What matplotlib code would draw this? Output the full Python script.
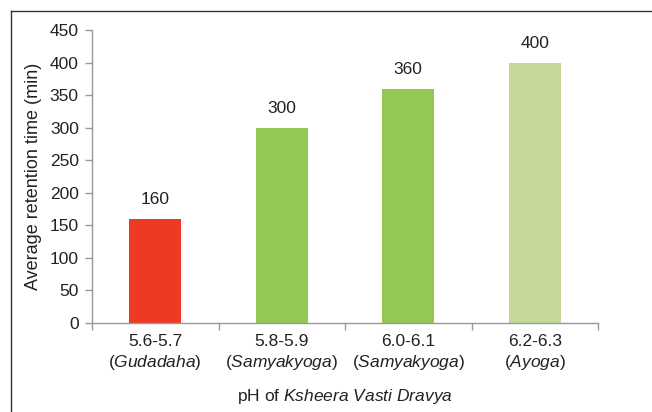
import matplotlib
matplotlib.use("Agg")
import matplotlib.pyplot as plt
from matplotlib.lines import Line2D
import numpy as np

ranges = ["5.6-5.7", "5.8-5.9", "6.0-6.1", "6.2-6.3"]
names = ["Gudadaha", "Samyakyoga", "Samyakyoga", "Ayoga"]
values = [160, 300, 360, 400]
colors = ["#EE3A23", "#92C954", "#92C954", "#C4D89A"]
yticks = [0, 50, 100, 150, 200, 250, 300, 350, 400, 450]

plt.rcParams['font.family'] = ['Liberation Sans', 'DejaVu Sans']
plt.rcParams['mathtext.fontset'] = 'custom'
plt.rcParams['mathtext.rm'] = 'Liberation Sans'
plt.rcParams['mathtext.it'] = 'Liberation Sans:italic'

FS = 12.5
TC = '#222222'

fig = plt.figure(figsize=(6.52, 4.12), dpi=100)
ax = fig.add_axes([92/652, 1-323/412, (598-92)/652, (323-30)/412])

x = np.arange(len(values))
ax.bar(x, values, width=0.41, color=colors, zorder=2)
for xi, v in zip(x, values):
    ax.annotate(str(v), (xi, v), xytext=(0, 8.5), textcoords='offset points',
                ha='center', va='bottom', fontsize=FS, color=TC)

ax.set_xlim(-0.5, len(values) - 0.5)
ax.set_ylim(0, 450)
ax.set_yticks(yticks)
ax.set_yticklabels([str(t) for t in yticks])

labels = [f"{r}\n($\\mathit{{{n}}}$)" for r, n in zip(ranges, names)]
ax.set_xticks(x)
ax.set_xticklabels(labels, fontsize=FS, color=TC, linespacing=1.25)
ax.tick_params(axis='x', which='major', length=0, pad=8)
ax.set_xticks(np.arange(-0.5, len(values)), minor=True)
ax.tick_params(axis='x', which='minor', length=5, color='#999999', width=1)
ax.tick_params(axis='y', length=5, color='#999999', width=1, labelsize=FS,
               labelcolor=TC, pad=4.5)

for s in ['top', 'right']:
    ax.spines[s].set_visible(False)
for s in ['left', 'bottom']:
    ax.spines[s].set_color('#999999')
    ax.spines[s].set_linewidth(1)

ax.set_ylabel("Average retention time (min)", fontsize=13, color=TC)
ax.yaxis.label.set_va('center')
ax.yaxis.set_label_coords(-(92 - 34) / 506, 0.5)
fig.text((92 + 598) / 2 / 652, 1 - 397 / 412,
         r"pH of $\mathit{Ksheera\ Vasti\ Dravya}$",
         ha='center', va='center', fontsize=FS, color=TC)

# frame lines
fig.add_artist(Line2D([11/652, 11/652], [0, 1 - 11/412], transform=fig.transFigure,
                      color='#333333', lw=1))
fig.add_artist(Line2D([11/652, 1], [1 - 11/412, 1 - 11/412], transform=fig.transFigure,
                      color='#333333', lw=1))

fig.savefig("out.png", dpi=100)
